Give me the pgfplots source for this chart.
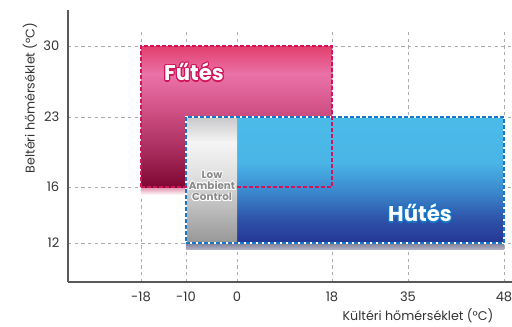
\documentclass[border=0pt]{standalone}
\usepackage{pgfplots}
\pgfplotsset{compat=1.18}
\usepackage{fontspec}
\setmainfont{Poppins}
\definecolor{axisgray}{HTML}{5A5A5A}
\definecolor{gridgray}{HTML}{ABABAB}
\definecolor{ticktext}{HTML}{333333}
\definecolor{crim}{HTML}{D3145A}
\definecolor{bluedash}{HTML}{1877C9}
\definecolor{lowtext}{HTML}{8A8A8A}
% heating gradient (path box maps to 25bp..75bp)
\pgfdeclareverticalshading{futes}{100bp}{color(0bp)=(rgb,255:red,126;green,6;blue,49);
 color(25bp)=(rgb,255:red,126;green,6;blue,49);
 color(37bp)=(rgb,255:red,165;green,42;blue,90);
 color(52bp)=(rgb,255:red,207;green,80;blue,132);
 color(65bp)=(rgb,255:red,234;green,114;blue,168);
 color(75bp)=(rgb,255:red,227;green,63;blue,108);
 color(100bp)=(rgb,255:red,227;green,63;blue,108)}
\pgfdeclareverticalshading{hutes}{100bp}{color(0bp)=(rgb,255:red,37;green,53;blue,149);
 color(25bp)=(rgb,255:red,37;green,53;blue,149);
 color(35bp)=(rgb,255:red,47;green,85;blue,170);
 color(45bp)=(rgb,255:red,58;green,134;blue,204);
 color(57bp)=(rgb,255:red,74;green,181;blue,230);
 color(75bp)=(rgb,255:red,75;green,187;blue,234);
 color(100bp)=(rgb,255:red,75;green,187;blue,234)}
\pgfdeclareverticalshading{lowamb}{100bp}{color(0bp)=(rgb,255:red,151;green,151;blue,151);
 color(25bp)=(rgb,255:red,151;green,151;blue,151);
 color(52bp)=(rgb,255:red,224;green,224;blue,224);
 color(65bp)=(rgb,255:red,245;green,245;blue,245);
 color(75bp)=(rgb,255:red,200;green,200;blue,202);
 color(100bp)=(rgb,255:red,200;green,200;blue,202)}
\pgfdeclareverticalshading{futesrefl}{100bp}{color(0bp)=(white); color(25bp)=(white);
 color(75bp)=(rgb,255:red,225;green,140;blue,170); color(100bp)=(rgb,255:red,225;green,140;blue,170)}
\pgfdeclareverticalshading{hutesrefl}{100bp}{color(0bp)=(rgb,255:red,175;green,175;blue,195); color(25bp)=(rgb,255:red,175;green,175;blue,195);
 color(75bp)=(rgb,255:red,125;green,125;blue,150); color(100bp)=(rgb,255:red,125;green,125;blue,150)}

% Axis positions (non-linear scale): outdoor -18,-10,0,18,35,48 -> 73,118,169,264,340,436
% indoor 12,16,23,30 -> 39,95,165,236
\pgfplotstableread{
x y
73 95
264 95
264 236
73 236
73 95
}\futestab
\pgfplotstableread{
x y
118 39
436 39
436 165
118 165
118 39
}\hutestab
\pgfplotstableread{
x y
118 39
169 39
169 165
118 165
118 39
}\lowtab

\begin{document}
\begin{tikzpicture}
\begin{axis}[
 scale only axis, width=333pt, height=189pt,
 xmin=0, xmax=444, ymin=0, ymax=252,
 axis lines=left, axis line style={-, axisgray, line width=1.2pt},
 xtick={73,118,169,264,340,436}, xticklabels={\mbox{-18},\mbox{-10},\mbox{0},\mbox{18},\mbox{35},\mbox{48}},
 ytick={39,95,165,236}, yticklabels={\mbox{12},\mbox{16},\mbox{23},\mbox{30}},
 major tick length=0pt,
 grid=major, major grid style={gridgray, dash pattern=on 2.5pt off 2.5pt, line width=0.6pt},
 tick label style={font=\fontsize{9.8}{10}\selectfont, text=ticktext},
 xticklabel style={yshift=-4pt}, yticklabel style={xshift=-3pt},
 clip=false,
]
% heating reflection and fill
\addplot[draw=none, shading=futesrefl] coordinates {(73,87) (264,87) (264,95) (73,95) (73,87)};
\addplot[draw=none, shading=futes] table {\futestab};
% cooling reflection and fill
\addplot[draw=none, shading=hutesrefl] coordinates {(118,33) (436,33) (436,39) (118,39) (118,33)};
\addplot[draw=none, shading=hutes] table {\hutestab};
\addplot[draw=none, shading=lowamb] table {\lowtab};
% borders
\addplot[draw=white, line width=1.5pt] table {\hutestab};
\addplot[draw=bluedash, line width=1.5pt, dash pattern=on 3pt off 1.5pt] table {\hutestab};
\addplot[draw=crim, line width=1.5pt, dash pattern=on 3pt off 1.5pt] table {\futestab};
\draw[axisgray, line width=1.2pt] (axis cs:0,250) -- (axis cs:0,272);
\coordinate (futesc) at (axis cs:126,210);
\coordinate (hutesc) at (axis cs:352,69);
\coordinate (lowc) at (axis cs:144,96);
\coordinate (bbsw) at (axis cs:-68,-44);
\coordinate (bbne) at (axis cs:444,282);
\coordinate (ylab) at (axis cs:-38,184);
\coordinate (xlab) at (axis cs:350,-34);
\end{axis}
\node[rotate=90, font=\fontsize{9.5}{10}\selectfont, text=ticktext] at (ylab) {Beltéri hőmérséklet (°C)};
\node[font=\fontsize{9.5}{10}\selectfont, text=ticktext] at (xlab) {Kültéri hőmérséklet (°C)};
\foreach \a in {0,30,...,330} {
 \node[text=crim, font=\fontsize{16}{18}\bfseries] at ([shift={(\a:0.9pt)}]futesc) {Fűtés};
 \node[text=bluedash, font=\fontsize{16}{18}\bfseries] at ([shift={(\a:0.9pt)}]hutesc) {Hűtés};
 \node[text=white, align=center, font=\fontsize{7.8}{8.4}\bfseries] at ([shift={(\a:0.6pt)}]lowc) {Low\\Ambient\\Control};
}
\node[text=white, font=\fontsize{16}{18}\bfseries] at (futesc) {Fűtés};
\node[text=white, font=\fontsize{16}{18}\bfseries] at (hutesc) {Hűtés};
\node[text=lowtext, align=center, font=\fontsize{7.8}{8.4}\bfseries] at (lowc) {Low\\Ambient\\Control};
\pgfresetboundingbox
\useasboundingbox (bbsw) rectangle (bbne);
\end{tikzpicture}
\end{document}
